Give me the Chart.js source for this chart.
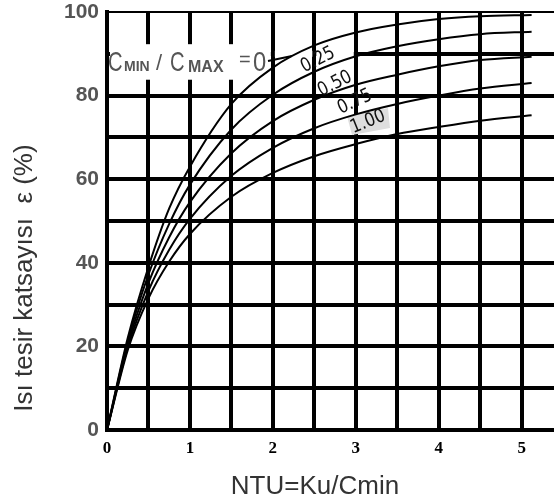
<!DOCTYPE html>
<html>
<head>
<meta charset="utf-8">
<script src="https://cdn.jsdelivr.net/npm/chart.js@4.4.1/dist/chart.umd.min.js"></script>
<style>
html,body{margin:0;padding:0;background:#fff;}
</style>
</head>
<body>
<canvas id="grafik" width="554" height="504"></canvas>
<script>
// NTU degerleri ve her Cmin/Cmax orani icin isi tesir katsayisi (%)
const ntu = [0, 0.25, 0.5, 0.75, 1, 1.5, 2, 2.5, 3, 3.5, 4, 4.5, 5.12];
const oranlar = ['0', '0.25', '0.50', '0.75', '1.00'];
const e0   = [0, 22, 39, 53, 63, 78, 86.7, 92, 95.1, 97, 98.3, 99, 99.3];
const e025 = [0, 21.3, 37.2, 49.3, 58.7, 71.9, 80.2, 85.7, 89.4, 91.8, 93.5, 94.7, 95.3];
const e050 = [0, 20.5, 35.2, 46.1, 54.5, 66.2, 73.9, 79, 82.6, 85, 87, 88.5, 89.3];
const e075 = [0, 19.8, 33.3, 43.1, 50.5, 60.8, 67.5, 72.2, 75.5, 78, 80, 81.7, 83];
const e100 = [0, 19.1, 31.5, 40.3, 46.9, 55.8, 61.5, 65.5, 68.4, 70.8, 72.5, 74, 75.3];
const seriler = [e0, e025, e050, e075, e100];

const xTikler = [0, 0.5, 1, 1.5, 2, 2.5, 3, 3.5, 4, 4.5, 5];
const yTikler = [0, 10, 20, 30, 40, 50, 60, 70, 80, 90, 100];

const yEtiket = 'Isı tesir katsayısı  ε (%)';
const xEtiket = 'NTU=Ku/Cmin';

function veri(seri){
    return ntu.map((n, i) => ({x: n, y: seri[i]}));
}

const yazilar = {
    id: 'yazilar',
    beforeDatasetsDraw(chart){
        const ctx = chart.ctx;
        const xs = chart.scales.x, ys = chart.scales.y;
        const px = v => xs.getPixelForValue(v), py = v => ys.getPixelForValue(v);
        ctx.save();
        ctx.fillStyle = '#fff';
        // etiketin arkasi bos
        ctx.fillRect(px(0) + 3, py(92.3), px(2) - 2 - (px(0) + 3), py(83.8) - py(92.3));
        ctx.fillRect(px(2) + 2, py(90) - 3, px(2.5) - px(2) - 4, 6);
        ctx.fillRect(px(2.5) + 2, py(90) - 3, px(3) - px(2.5) - 4, 6);
        // gri leke
        ctx.fillStyle = '#dedede';
        ctx.beginPath();
        ctx.moveTo(347, 116); ctx.lineTo(388, 108); ctx.lineTo(390, 128); ctx.lineTo(352, 135);
        ctx.closePath(); ctx.fill();
        ctx.restore();
    },
    afterDatasetsDraw(chart){
        const ctx = chart.ctx;
        ctx.save();
        ctx.fillStyle = '#555';
        ctx.textBaseline = 'alphabetic';
        ctx.textAlign = 'left';
        function buyuk(t, x, sx){
            ctx.save();
            ctx.translate(x, 71);
            ctx.scale(sx, 1);
            ctx.font = '28px "Liberation Sans"';
            ctx.fillText(t, 0, 0);
            ctx.restore();
        }
        buyuk('C', 108, 0.72);
        ctx.font = 'bold 14px "Liberation Sans"';
        ctx.fillText('MIN', 124, 71);
        ctx.font = '22px "Liberation Sans"';
        ctx.fillText('/', 156, 70);
        buyuk('C', 170, 0.72);
        ctx.font = 'bold 16px "Liberation Sans"';
        ctx.fillText('MAX', 188, 72);
        ctx.font = '20px "Liberation Sans"';
        ctx.fillText('=', 239, 66);
        buyuk('0', 253, 0.85);
        ctx.strokeStyle = '#000';
        ctx.lineWidth = 2;
        ctx.beginPath();
        ctx.moveTo(268, 61); ctx.lineTo(292, 56);
        ctx.stroke();

        // egri etiketleri
        ctx.fillStyle = '#111';
        ctx.textAlign = 'center';
        ctx.textBaseline = 'middle';
        ctx.font = '19px "DejaVu Sans"';
        const yer = [[318, 60, -27], [335, 84, -27], [355, 102, -25], [368, 122, -22]];
        for(let i = 1; i < oranlar.length; i++){
            const [x, y, a] = yer[i - 1];
            ctx.save();
            ctx.translate(x, y);
            ctx.rotate(a * Math.PI / 180);
            ctx.scale(0.85, 1);
            ctx.fillText(oranlar[i], 0, 0);
            ctx.restore();
        }

        // eksen basliklari
        ctx.fillStyle = '#333';
        ctx.font = '26px "Liberation Sans"';
        ctx.fillText(xEtiket, 315, 487);
        ctx.save();
        ctx.translate(25, 278);
        ctx.rotate(-Math.PI / 2);
        ctx.fillText(yEtiket, 0, 0);
        ctx.restore();
        ctx.restore();
    }
};

const ctx = document.getElementById('grafik').getContext('2d');
const grafik = new Chart(ctx, {
    type: 'line',
    data: {
        datasets: seriler.map((s, i) => ({
            label: oranlar[i],
            data: veri(s),
            borderColor: '#000',
            borderWidth: 2,
            pointRadius: 0,
            fill: false,
            cubicInterpolationMode: 'monotone'
        }))
    },
    options: {
        responsive: false,
        animation: false,
        devicePixelRatio: 1,
        layout: { padding: { top: 12, right: 0, left: 0, bottom: 0 } },
        scales: {
            x: {
                type: 'linear',
                min: 0,
                max: 5.39,
                afterBuildTicks: s => { s.ticks = xTikler.map(v => ({value: v})); },
                afterFit: s => { s.height = 74; s.paddingLeft = 0; s.paddingRight = 0; },
                ticks: {
                    autoSkip: false,
                    maxRotation: 0,
                    padding: 8,
                    color: '#000',
                    font: { family: 'Liberation Serif', size: 17, weight: 'bold' },
                    callback: v => Number.isInteger(v) ? v : ''
                },
                grid: { color: '#000', lineWidth: 4, drawTicks: false },
                border: { color: '#000', width: 4 }
            },
            y: {
                min: 0,
                max: 100,
                afterBuildTicks: s => { s.ticks = yTikler.map(v => ({value: v})); },
                afterFit: s => { s.width = 107; s.paddingTop = 0; s.paddingBottom = 0; },
                ticks: {
                    padding: 8,
                    color: '#555',
                    font: { family: 'Liberation Sans', size: 21, weight: 'bold' },
                    callback: v => v % 20 === 0 ? v : ''
                },
                grid: {
                    color: '#000',
                    lineWidth: c => (c.tick && c.tick.value === 100) ? 2 : 4,
                    drawTicks: false
                },
                border: { color: '#000', width: 4 }
            }
        },
        plugins: {
            legend: { display: false },
            tooltip: { enabled: false }
        }
    },
    plugins: [yazilar]
});
</script>
</body>
</html>
